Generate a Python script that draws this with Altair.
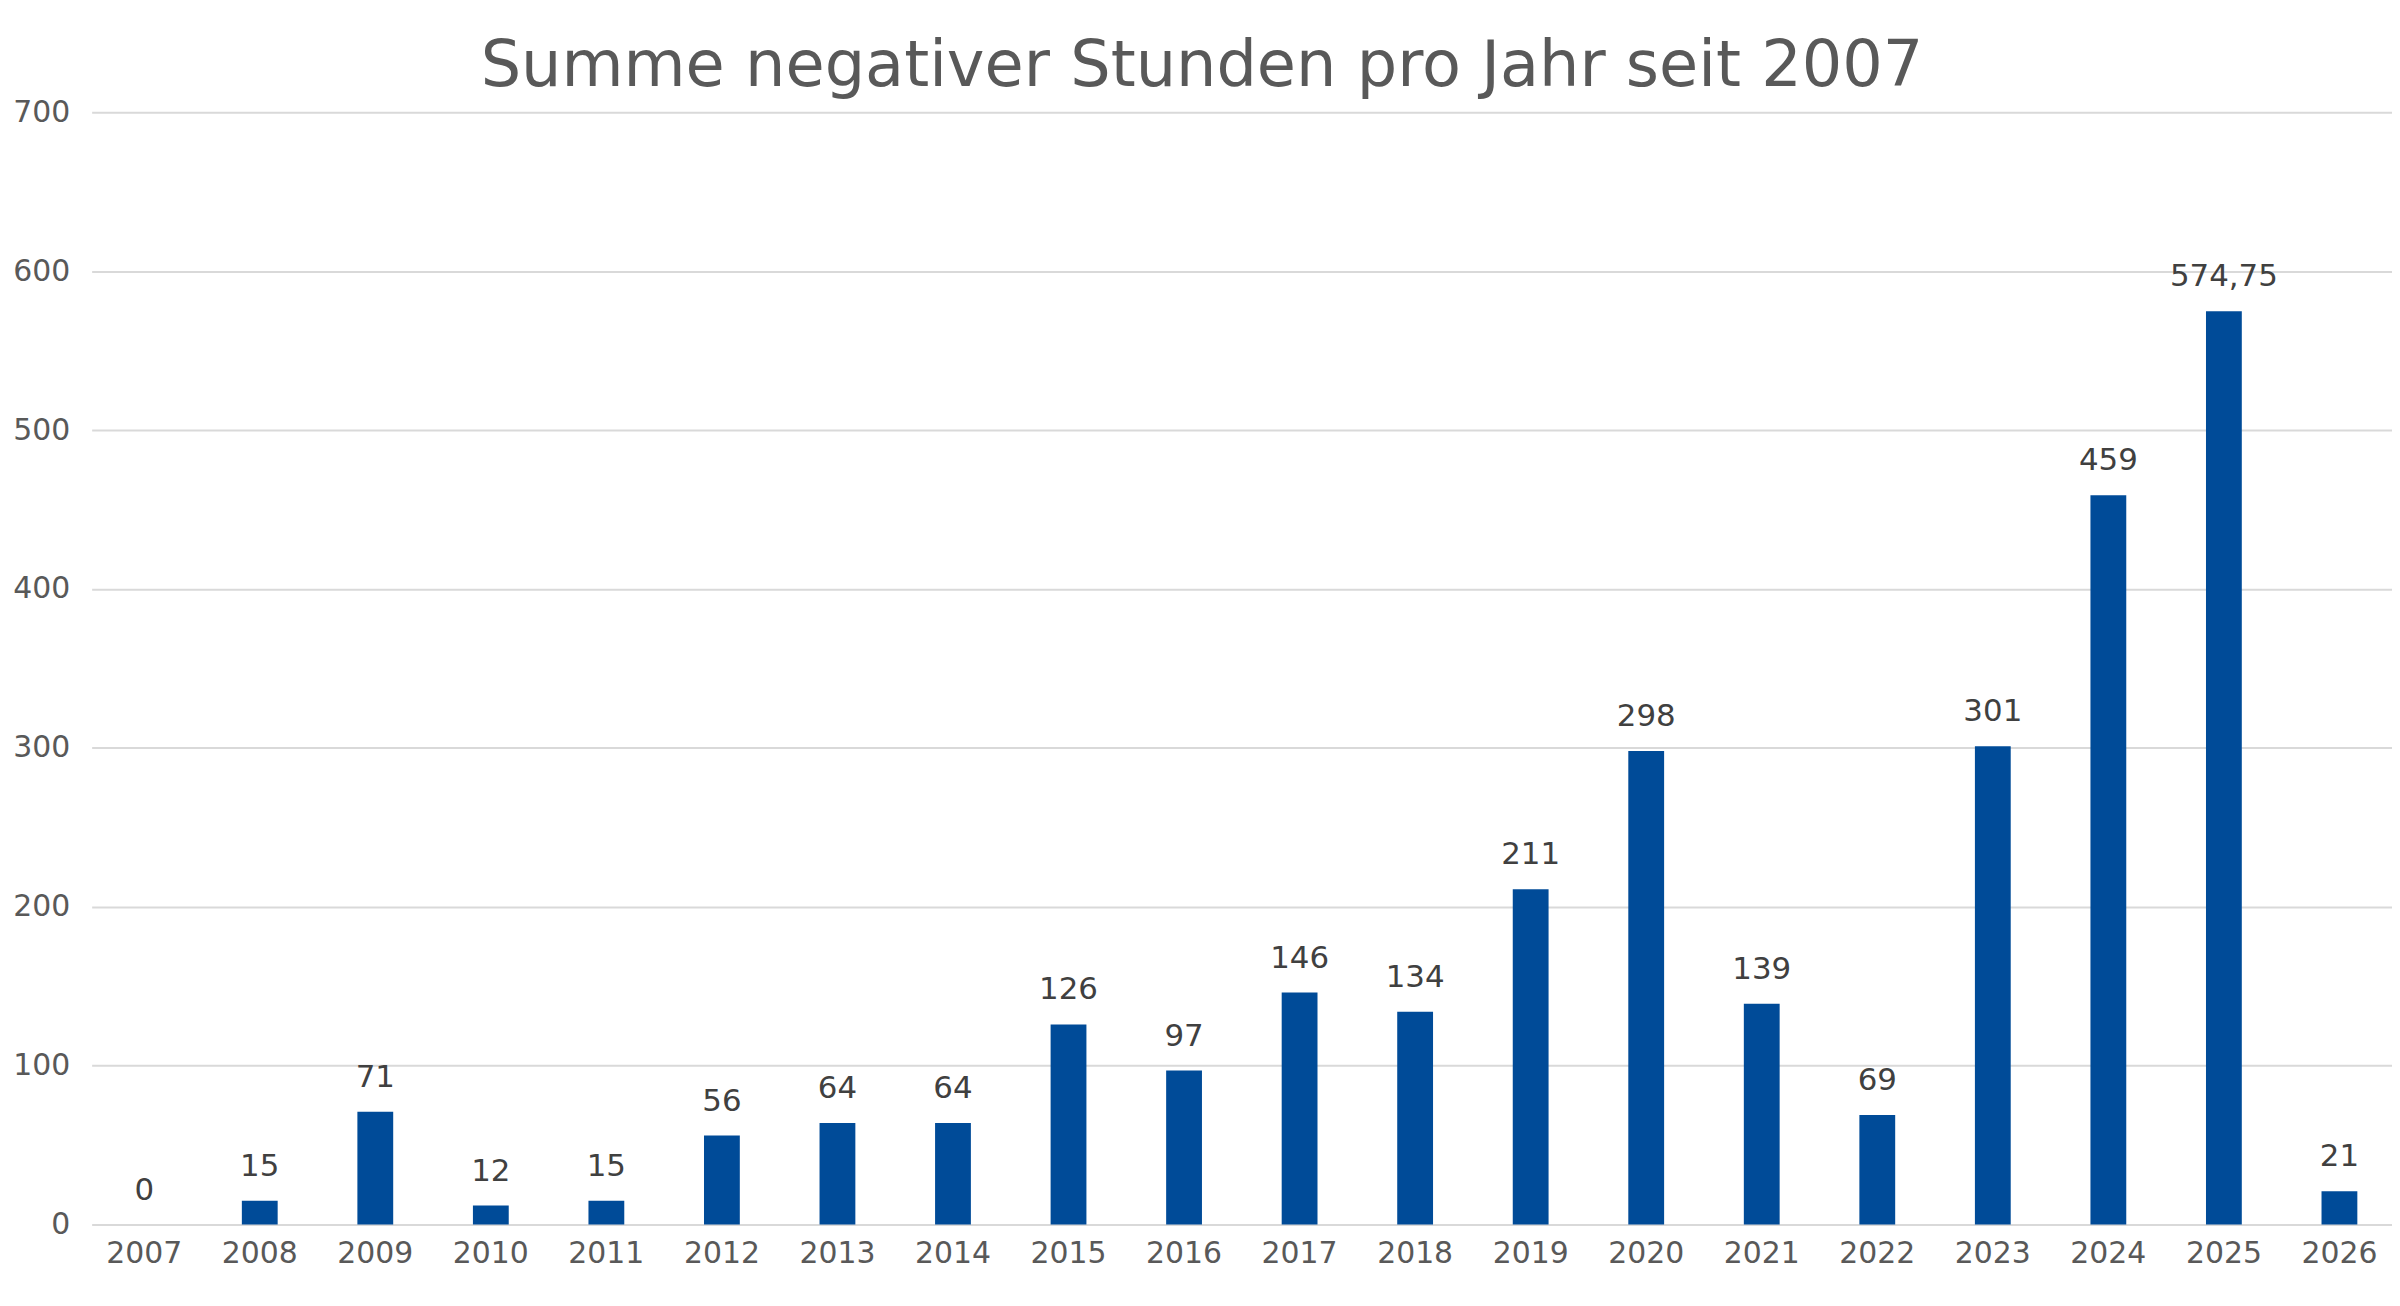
import altair as alt
import pandas as pd

FONT = "DejaVu Sans"

years = [str(y) for y in range(2007, 2027)]
hours = [0, 15, 71, 12, 15, 56, 64, 64, 126, 97, 146, 134, 211, 298, 139, 69, 301, 459, 574.75, 21]
labels = ["0", "15", "71", "12", "15", "56", "64", "64", "126", "97", "146", "134",
          "211", "298", "139", "69", "301", "459", "574,75", "21"]

df = pd.DataFrame({"year": years, "hours": hours, "label": labels})

base = alt.Chart(df).encode(
    x=alt.X(
        "year:N",
        title=None,
        scale=alt.Scale(paddingInner=0.69, paddingOuter=0.3),
        axis=alt.Axis(labelAngle=0, ticks=False, domain=False, labelPadding=14),
    ),
    y=alt.Y(
        "hours:Q",
        title=None,
        scale=alt.Scale(domain=[0, 700], nice=False),
        axis=alt.Axis(values=list(range(0, 701, 100)), ticks=False, domain=False,
                      labelPadding=22, gridColor="#d9d9d9", gridWidth=2),
    ),
)

bars = base.mark_bar(color="#004B98")
text = base.mark_text(dy=-18, baseline="bottom", fontSize=31, color="#404040", font=FONT).encode(
    text="label:N"
)

chart = (
    (bars + text)
    .properties(
        width=2310,
        height=1117,
        autosize=alt.AutoSizeParams(type="none"),
        padding={"left": 84, "top": 102, "right": 0, "bottom": 70},
        title=alt.Title("Summe negativer Stunden pro Jahr seit 2007", fontSize=64,
                        fontWeight="normal", color="#595959", font=FONT, offset=-2, dx=-40),
    )
    .configure_view(stroke=None)
    .configure_axis(labelFont=FONT, labelFontSize=30, labelColor="#595959")
)

chart.save("out.html", embed_options={"renderer": "svg", "actions": False})
